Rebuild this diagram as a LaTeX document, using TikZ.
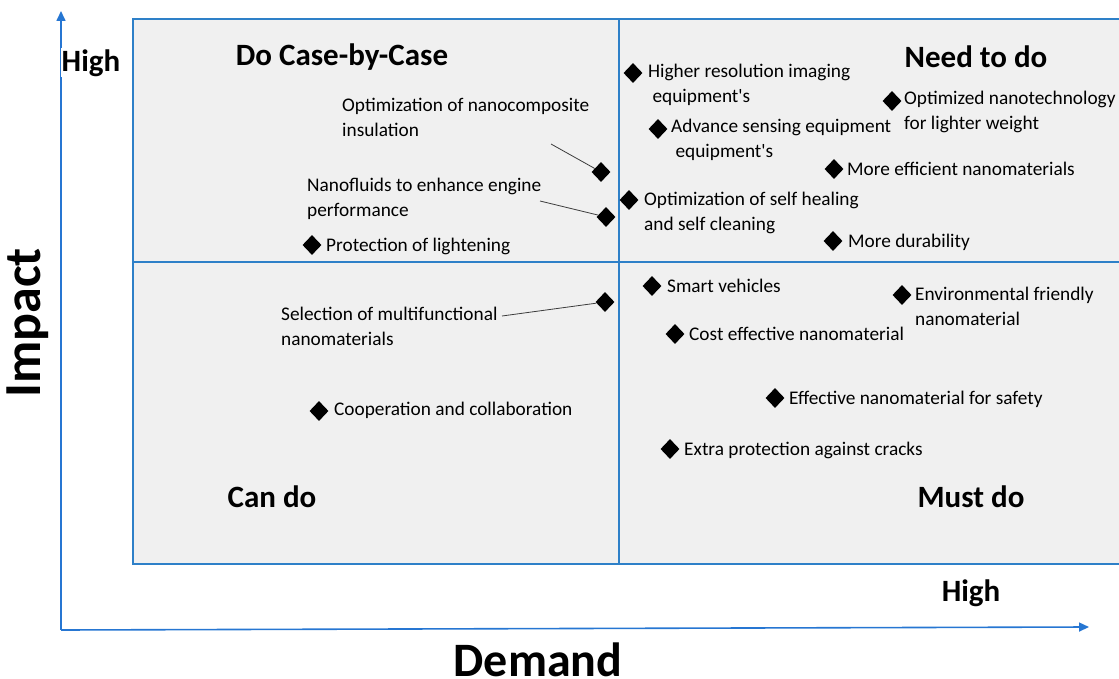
\documentclass[tikz,border=0pt]{standalone}
\usepackage{fontspec}
\setmainfont{Carlito}
\usetikzlibrary{shapes.geometric,arrows.meta}
\definecolor{frameblue}{RGB}{46,128,200}
\definecolor{axisblue}{RGB}{38,118,210}
\definecolor{panelgray}{RGB}{240,240,240}
\definecolor{leadergray}{RGB}{60,60,60}
\newcommand{\apos}{\textquotesingle}
\tikzset{
  dia/.style={shape=diamond,fill=black,inner sep=0pt,minimum width=19pt,minimum height=20pt},
  lbl/.style={anchor=west,inner sep=0pt,align=left,font=\fontsize{19.3}{25}\selectfont},
  title/.style={inner sep=0pt,font=\fontsize{31}{35}\selectfont\bfseries},
  axlabel/.style={inner sep=0pt,font=\fontsize{48}{52}\selectfont\bfseries},
  axisline/.style={draw=axisblue,line width=1.6pt,-{Triangle[length=10pt,width=9pt]}},
  leader/.style={draw=leadergray,line width=0.8pt}
}
\begin{document}
\begin{tikzpicture}[x=1pt,y=-1pt]
\useasboundingbox (0,0) rectangle (1119,679);
% panel
\fill[panelgray] (133,19) rectangle (1119,564);
\draw[frameblue,line width=1.4pt] (1119,19) -- (133,19) -- (133,564) -- (1119,564);
\draw[frameblue,line width=1.2pt] (619,19) -- (619,564);
\draw[frameblue,line width=1.2pt] (133,262) -- (1119,262);
% axes
\coordinate (o) at (61,630);
\coordinate (ytip) at (61,11);
\coordinate (xtip) at (1089,627);
\draw[axisline] (o) -- (ytip);
\draw[axisline] (o) -- (xtip);
% axis labels
\node[title,fill=white,inner sep=1pt] (yhigh) at (91,63) {High};
\node[title] (xhigh) at (971,593) {High};
\node[axlabel,anchor=base] (demand) at (538,676) {Demand};
\node[axlabel,font=\fontsize{52}{56}\selectfont\bfseries,rotate=90] (impact) at (28,323) {Impact};
% quadrant titles
\node[title] (q1) at (342,57) {Do Case-by-Case};
\node[title] (q2) at (976,57) {Need to do};
\node[title] (q3) at (272,497) {Can do};
\node[title] (q4) at (971,497) {Must do};
% upper right
\node[dia] (d1) at (633,73) {};
\node[lbl] (t1) at (648,85) {Higher resolution imaging\\\ equipment\apos s};
\node[dia] (d2) at (892,101) {};
\node[lbl] (t2) at (904,112) {Optimized nanotechnology\\for lighter weight};
\node[dia] (d3) at (658,129) {};
\node[lbl] (t3) at (671,140) {Advance sensing equipment\\\ equipment\apos s};
\node[dia] (d4) at (834,169) {};
\node[lbl] (t4) at (847,169) {More efficient nanomaterials};
\node[dia] (d5) at (629,200) {};
\node[lbl] (t5) at (644,213) {Optimization of self healing\\and self cleaning};
\node[dia] (d6) at (833,241) {};
\node[lbl] (t6) at (848,242) {More durability};
% upper left
\node[lbl] (t7) at (342,117) {Optimization of nanocomposite\\insulation};
\node[dia] (d7) at (601,172) {};
\coordinate (c7) at (551,144);
\draw[leader] (c7) -- (d7);
\node[lbl] (t8) at (307,199) {Nanofluids to enhance engine\\performance};
\node[dia] (d8) at (606,217) {};
\coordinate (c8) at (540,201);
\draw[leader] (c8) -- (d8);
\node[dia] (d9) at (312,245) {};
\node[lbl] (t9) at (326,246) {Protection of lightening};
% lower left
\node[lbl] (t10) at (281,326) {Selection of multifunctional\\nanomaterials};
\node[dia] (d10) at (605,302) {};
\coordinate (c10) at (502,316);
\draw[leader] (c10) -- (d10);
\node[dia] (d11) at (319,411) {};
\node[lbl] (t11) at (334,410) {Cooperation and collaboration};
% lower right
\node[dia] (d12) at (652,286) {};
\node[lbl] (t12) at (667,286) {Smart vehicles};
\node[dia] (d13) at (902,295) {};
\node[lbl] (t13) at (915,306) {Environmental friendly\\nanomaterial};
\node[dia] (d14) at (675,334) {};
\node[lbl] (t14) at (689,334) {Cost effective nanomaterial};
\node[dia] (d15) at (775,398) {};
\node[lbl] (t15) at (789,399) {Effective nanomaterial for safety};
\node[dia] (d16) at (670,449) {};
\node[lbl] (t16) at (684,450) {Extra protection against cracks};
\end{tikzpicture}
\end{document}
